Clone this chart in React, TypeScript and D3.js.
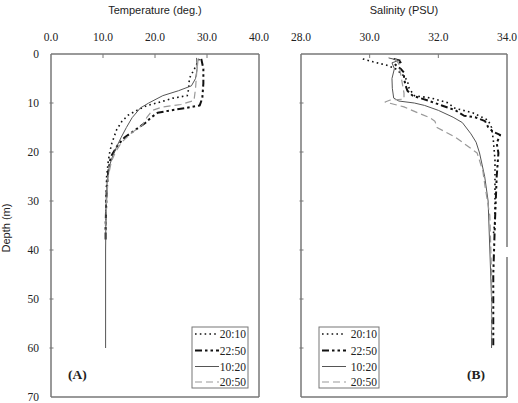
import React from "react";
import * as d3 from "d3";

// ---- data ----
const seriesNames = ["20:10", "22:50", "10:20", "20:50"];
const tempXTicks = [0, 10, 20, 30, 40];
const salXTicks = [28, 30, 32, 34];
const depthTicks = [0, 10, 20, 30, 40, 50, 60, 70];

// [depth, temperature]
const temp2010: [number, number][] = [
  [1, 28.5], [3, 27.6], [5, 26.6], [7, 26.5], [8.5, 26.2], [9, 23.5], [9.8, 21], [10.5, 18.5],
  [11.5, 16.5], [12.5, 14.8], [13.8, 13.6], [15.5, 12.6], [18.2, 11.7], [20, 11.3], [22, 11.0],
  [25, 10.7], [30, 10.6], [36, 10.5],
];
const temp2250: [number, number][] = [
  [1, 28.9], [3, 29.3], [6, 29.3], [9, 29.1], [10.5, 28.6], [11, 26], [11.5, 23], [12, 20.5],
  [13, 19.2], [14, 18.2], [15.5, 16.2], [17, 14.2], [18.5, 12.9], [21, 11.5], [24, 11.0],
  [28, 10.7], [35, 10.5], [38, 10.5],
];
const temp1020: [number, number][] = [
  [0.8, 28.0], [3, 28.1], [5, 27.8], [6.5, 27.0], [7.5, 24.5], [8.5, 21.5], [10, 18.8], [11, 17.2],
  [13, 15.6], [15, 14.5], [17, 13.5], [19, 12.6], [21, 11.8], [23, 11.2], [26, 10.8], [30, 10.6],
  [40, 10.5], [60, 10.5],
];
const temp2050: [number, number][] = [
  [1, 28.3], [4, 28.0], [7, 27.8], [9.5, 27.5], [10.3, 25], [10.8, 21.5], [11.5, 19.5], [13, 18.4],
  [14.5, 17.6], [16, 15.6], [18, 13.6], [20, 12.4], [22, 11.6], [25, 11.0], [30, 10.7], [36, 10.5],
];

// [depth, salinity]
const sal2010: [number, number][] = [
  [1, 29.8], [1.6, 30.1], [2.3, 30.5], [3, 30.75], [4.5, 31.0], [5.5, 31.1], [7, 31.15], [8.5, 31.3],
  [9, 31.8], [10, 32.3], [11, 32.45], [12, 33.0], [13.5, 33.45], [15, 33.55], [17.5, 33.6],
  [21.5, 33.65], [28, 33.65], [34, 33.65], [37, 33.6],
];
const sal2250: [number, number][] = [
  [1, 30.7], [1.5, 30.95], [2.2, 30.75], [3, 30.9], [3.8, 31.0], [5, 31.0], [6.5, 31.05], [7.5, 31.1],
  [8.5, 31.25], [9.5, 31.7], [10.5, 32.1], [11.5, 32.5], [12.6, 32.75], [12.9, 33.07], [13.7, 33.36],
  [14.9, 33.45], [15.9, 33.6], [16.5, 33.8], [18.2, 33.7], [20.2, 33.75], [25, 33.7], [34, 33.65],
  [45, 33.6], [60, 33.6],
];
const sal1020: [number, number][] = [
  [0.8, 30.55], [1.3, 30.85], [1.8, 30.65], [3, 30.72], [5, 30.65], [7, 30.66], [9, 30.7], [9.6, 30.85],
  [10, 31.3], [10.5, 31.6], [11.5, 32.0], [12.9, 32.43], [14, 32.7], [16.3, 32.95], [18, 33.1],
  [20.2, 33.2], [25, 33.35], [30, 33.45], [40, 33.5], [50, 33.55], [60, 33.55],
];
const sal2050: [number, number][] = [
  [1, 30.75], [2, 30.85], [4, 30.9], [6, 30.95], [8, 31.0], [9.2, 31.0], [9.4, 30.6], [9.8, 30.45],
  [10.8, 31.0], [12, 31.4], [13, 31.75], [13.7, 31.9], [15, 31.96], [17, 32.5], [20.2, 33.13],
  [24, 33.3], [27, 33.36], [33, 33.5], [45, 33.55], [58, 33.55],
];

const tempSeries = [temp2010, temp2250, temp1020, temp2050];
const salSeries = [sal2010, sal2250, sal1020, sal2050];

const styles = [
  { stroke: "#111", width: 1.6, dash: "1.6,3.2", cap: "butt" },
  { stroke: "#111", width: 2, dash: "7,3,2.5,3,2.5,3", cap: "butt" },
  { stroke: "#555", width: 1, dash: "", cap: "butt" },
  { stroke: "#999", width: 1.2, dash: "7,4", cap: "butt" },
];

const W = 518;
const H = 403;
const y = d3.scaleLinear().domain([0, 70]).range([54, 397]);
const xT = d3.scaleLinear().domain([0, 40]).range([51, 259]);
const xS = d3.scaleLinear().domain([28, 34]).range([301, 507]);

const serif = "'Liberation Serif', 'Times New Roman', serif";
const sans = "'Liberation Sans', Arial, sans-serif";
const frame = "#777";

function Panel({
  x, series, ticks, fmt, label, title, legendX, tagX, showYLabels, gap,
}: any) {
  const [x0, x1] = x.range();
  const [y0, y1] = y.range();
  const line = (ds: [number, number][]) =>
    d3.line<[number, number]>().x((d) => x(d[1])).y((d) => y(d[0]))(ds) || "";
  const lw = legendX[1] - legendX[0];
  return (
    <g>
      <text x={(x0 + x1) / 2} y={14} textAnchor="middle" fontFamily={sans} fontSize={11} fill="#222">
        {title}
      </text>
      {ticks.map((t: number) => (
        <text key={t} x={x(t)} y={41} textAnchor="middle" fontFamily={serif} fontSize={11.5} fill="#222">
          {t.toFixed(1)}
        </text>
      ))}
      {ticks.slice(1, -1).map((t: number) => (
        <line key={"tt" + t} x1={x(t)} x2={x(t)} y1={y0} y2={y0 + 4} stroke={frame} strokeWidth={1} />
      ))}
      {depthTicks.slice(1, -1).map((t) => (
        <line key={"yt" + t} x1={x0 - 1.5} x2={x0 + 2.5} y1={y(t)} y2={y(t)} stroke={frame} strokeWidth={1} />
      ))}
      {showYLabels &&
        depthTicks.map((t) => (
          <text key={"yl" + t} x={39} y={y(t) + 4} textAnchor="end" fontFamily={serif} fontSize={11.5} fill="#222">
            {t}
          </text>
        ))}
      {series.map((ds: [number, number][], i: number) => (
        <path key={i} d={line(ds)} fill="none" stroke={styles[i].stroke} strokeWidth={styles[i].width}
          strokeDasharray={styles[i].dash} strokeLinejoin="round" />
      ))}
      {/* frame */}
      <line x1={x0} x2={x1} y1={y0} y2={y0} stroke={frame} strokeWidth={1.5} />
      <line x1={x0} x2={x1} y1={y1} y2={y1} stroke={frame} strokeWidth={1.5} />
      <line x1={x0} x2={x0} y1={y0} y2={y1} stroke={frame} strokeWidth={1.5} />
      {gap ? (
        <g>
          <line x1={x1} x2={x1} y1={y0} y2={gap[0]} stroke={frame} strokeWidth={1.5} />
          <line x1={x1} x2={x1} y1={gap[1]} y2={y1} stroke={frame} strokeWidth={1.5} />
        </g>
      ) : (
        <line x1={x1} x2={x1} y1={y0} y2={y1} stroke={frame} strokeWidth={1.5} />
      )}
      {/* legend */}
      <rect x={legendX[0]} y={327} width={lw} height={61} fill="white" stroke={frame} strokeWidth={1} />
      {seriesNames.map((n, i) => {
        const cy = [334, 350.5, 366.5, 382][i];
        return (
          <g key={n}>
            <line x1={legendX[0] + 3} x2={legendX[0] + 27} y1={cy} y2={cy} stroke={styles[i].stroke}
              strokeWidth={styles[i].width} strokeDasharray={styles[i].dash} />
            <text x={legendX[1] - 2} y={cy + 4} textAnchor="end" fontFamily={serif} fontSize={11.5} fill="#222">
              {n}
            </text>
          </g>
        );
      })}
      <text x={tagX} y={379} fontFamily={serif} fontWeight="bold" fontSize={13.5} fill="#222">
        {label}
      </text>
    </g>
  );
}

export default function App() {
  return (
    <div style={{ position: "absolute", left: 0, top: 0 }}>
      <svg width={W} height={H} style={{ display: "block", background: "white" }}>
        <text transform={`translate(10,228) rotate(-90)`} textAnchor="middle" fontFamily={sans} fontSize={11} fill="#222">
          Depth (m)
        </text>
        <Panel x={xT} series={tempSeries} ticks={tempXTicks} title="Temperature (deg.)" label="(A)"
          legendX={[192, 248]} tagX={68} showYLabels={true} />
        <Panel x={xS} series={salSeries} ticks={salXTicks} title="Salinity (PSU)" label="(B)"
          legendX={[319, 379]} tagX={467} showYLabels={false} gap={[247, 257]} />
      </svg>
    </div>
  );
}
